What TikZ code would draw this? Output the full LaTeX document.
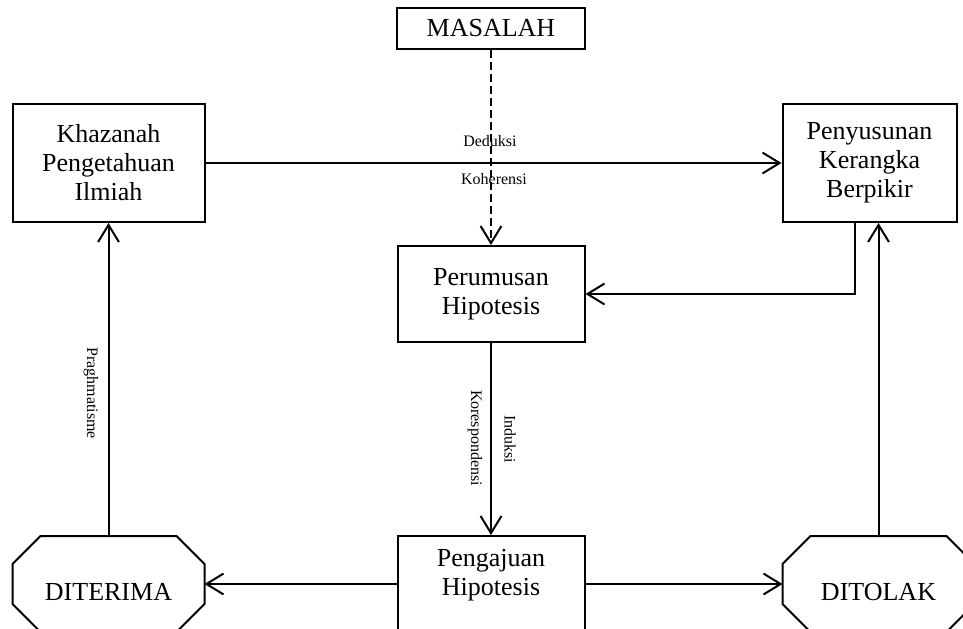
\documentclass[tikz,border=0pt]{standalone}
\usepackage{fontspec}
\setmainfont{Liberation Serif}
\usepackage{tikz}
\usetikzlibrary{arrows.meta,positioning}

\begin{document}
\begin{tikzpicture}[x=0.75pt, y=-0.75pt, node distance=144pt,
  box/.style={rectangle, draw=black, line width=1.5pt, inner sep=0pt, align=center, font=\fontsize{19.5pt}{21.75pt}\selectfont},
  octa/.style={rectangle, inner sep=0pt, outer sep=0pt, minimum width=144pt, minimum height=72pt, text height=24pt, text depth=0pt, font=\fontsize{19.5pt}{21.75pt}\selectfont},
  tag/.style={inner sep=0pt, font=\fontsize{12pt}{14pt}\selectfont},
  line/.style={draw, line width=1.5pt, -{Straight Barb[length=4.5mm, width=5.5mm]}}]

  \useasboundingbox (0,0) rectangle (963,628);

  \node [box, minimum width=141pt, minimum height=30.75pt] (masalah) at (491,28.5) {MASALAH};
  \node [box, minimum width=140.25pt, minimum height=72pt, below=146.25pt of masalah] (perumusan) {Perumusan\\Hipotesis};
  \node [box, minimum width=140.25pt, minimum height=72pt, text depth=17.7pt, below=144pt of perumusan] (pengajuan) {Pengajuan\\Hipotesis};
  \node [octa, left=144pt of pengajuan] (diterima) {DITERIMA};
  \node [octa, right=147.75pt of pengajuan] (ditolak) {DITOLAK};
  \node [box, minimum width=144pt, minimum height=88.5pt, above=234.75pt of diterima] (khazanah) {Khazanah\\Pengetahuan\\Ilmiah};
  \node [box, minimum width=130.5pt, minimum height=88.5pt, above=234.75pt of ditolak, xshift=-6.75pt] (penyusunan) {Penyusunan\\Kerangka\\Berpikir};

  % octagon outlines
  \foreach \n in {diterima,ditolak}
    \draw [line width=1.5pt] ([xshift=21pt]\n.north west) -- ([xshift=-21pt]\n.north east)
      -- ([yshift=-21pt]\n.north east) -- ([yshift=21pt]\n.south east)
      -- ([xshift=-21pt]\n.south east) -- ([xshift=21pt]\n.south west)
      -- ([yshift=21pt]\n.south west) -- ([yshift=-21pt]\n.north west) -- cycle;

  \path [line, dash pattern=on 6pt off 3pt] (masalah) -- (perumusan);
  \path [line] (khazanah) -- (penyusunan);
  \path [line] ([xshift=-11.25pt]penyusunan.south) |- (perumusan);
  \path [line] (perumusan) -- (pengajuan);
  \path [line] (pengajuan) -- (diterima);
  \path [line] (pengajuan) -- (ditolak);
  \path [line] (diterima) -- (khazanah);
  \path [line] (ditolak.north) -- (ditolak.north |- penyusunan.south);

  \node [tag] (deduksi) at (490,141) {Deduksi};
  \node [tag] (koherensi) at (494,179) {Koherensi};
  \node [tag, rotate=-90] (praghmatisme) at (91,393) {Praghmatisme};
  \node [tag, rotate=-90] (korespondensi) at (475,438) {Korespondensi};
  \node [tag, rotate=-90] (induksi) at (510,439) {Induksi};
\end{tikzpicture}
\end{document}
